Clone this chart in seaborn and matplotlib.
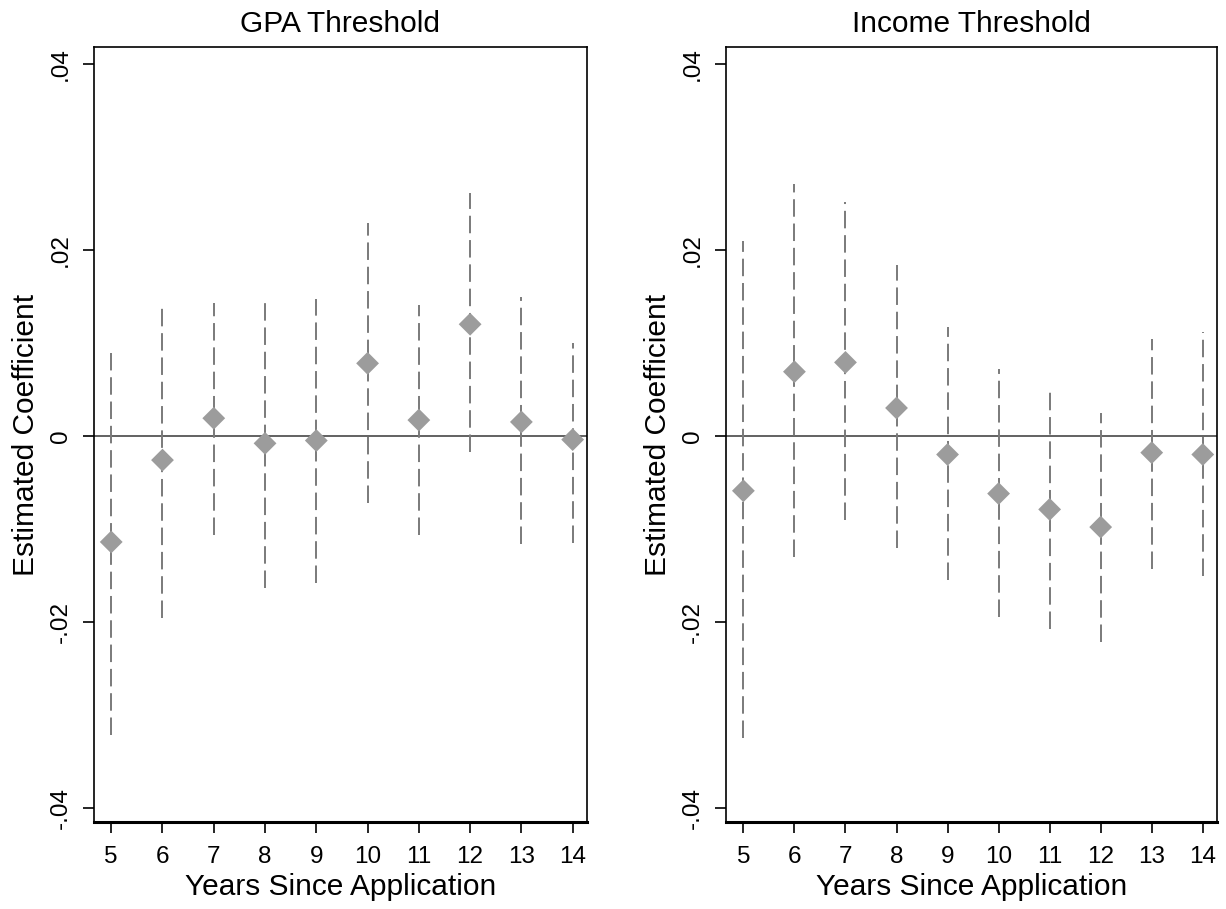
import numpy as np
import pandas as pd
import matplotlib
matplotlib.use("Agg")
import matplotlib.pyplot as plt
import seaborn as sns

sns.set_style("ticks")
plt.rcParams["font.family"] = ["Liberation Sans", "DejaVu Sans"]
plt.rcParams["text.color"] = "black"
plt.rcParams["axes.labelcolor"] = "black"
plt.rcParams["xtick.color"] = "black"
plt.rcParams["ytick.color"] = "black"

years = [5, 6, 7, 8, 9, 10, 11, 12, 13, 14]

# GPA threshold estimates and 95% CI bounds
gpa_coef = [-0.0114, -0.0026, 0.0019, -0.0008, -0.0005, 0.0078, 0.0017, 0.0120, 0.0015, -0.0004]
gpa_lo = [-0.0322, -0.0196, -0.0106, -0.0164, -0.0158, -0.0072, -0.0106, -0.0017, -0.0116, -0.0115]
gpa_hi = [0.0089, 0.0143, 0.0143, 0.0149, 0.0147, 0.0229, 0.0141, 0.0261, 0.0149, 0.0100]

# Income threshold estimates and 95% CI bounds
inc_coef = [-0.0059, 0.0069, 0.0079, 0.0030, -0.0020, -0.0062, -0.0079, -0.0098, -0.0018, -0.0020]
inc_lo = [-0.0325, -0.0130, -0.0090, -0.0121, -0.0155, -0.0195, -0.0208, -0.0222, -0.0143, -0.0151]
inc_hi = [0.0210, 0.0271, 0.0251, 0.0184, 0.0117, 0.0072, 0.0051, 0.0025, 0.0104, 0.0112]

titles = ["GPA Threshold", "Income Threshold"]
ytick_vals = [-0.04, -0.02, 0, 0.02, 0.04]
ytick_labels = ["-.04", "-.02", "0", ".02", ".04"]

panels = [
    pd.DataFrame({"year": years, "coef": gpa_coef, "lo": gpa_lo, "hi": gpa_hi}),
    pd.DataFrame({"year": years, "coef": inc_coef, "lo": inc_lo, "hi": inc_hi}),
]

fig = plt.figure(figsize=(12.26, 9.09), dpi=100)
ax1 = fig.add_axes([0.0765, 0.0957, 0.4023, 0.8526])
ax2 = fig.add_axes([0.5922, 0.0957, 0.4005, 0.8526])

for ax, df, title in zip([ax1, ax2], panels, titles):
    ax.axhline(0, color="#555555", lw=1.3, zorder=1)
    ax.vlines(df["year"], df["lo"], df["hi"], colors="#7a7a7a", lw=1.4,
              linestyles=(0, (9, 3.5)), zorder=2)
    sns.scatterplot(data=df, x="year", y="coef", marker="D", s=135,
                    color="#9c9c9c", edgecolor="none", ax=ax, zorder=3)
    ax.set_xlim(4.66, 14.28)
    ax.set_ylim(-0.0415, 0.0418)
    ax.set_xticks(years)
    ax.set_xticklabels([str(y) for y in years])
    ax.set_yticks(ytick_vals)
    ax.set_yticklabels(ytick_labels, rotation=90, va="center")
    ax.tick_params(axis="both", direction="out", length=8, width=1.2,
                   labelsize=17.5, color="black")
    ax.tick_params(axis="x", pad=9)
    ax.tick_params(axis="y", pad=8)
    for sp in ax.spines.values():
        sp.set_visible(True)
        sp.set_color("black")
        sp.set_linewidth(1.2)
    ax.spines["bottom"].set_linewidth(2.2)
    ax.set_title(title, fontsize=21.5, pad=11)
    ax.set_xlabel("Years Since Application", fontsize=21.5, labelpad=4)
    ax.set_ylabel("Estimated Coefficient", fontsize=21.5, labelpad=7)

fig.savefig("out.png", dpi=100)
